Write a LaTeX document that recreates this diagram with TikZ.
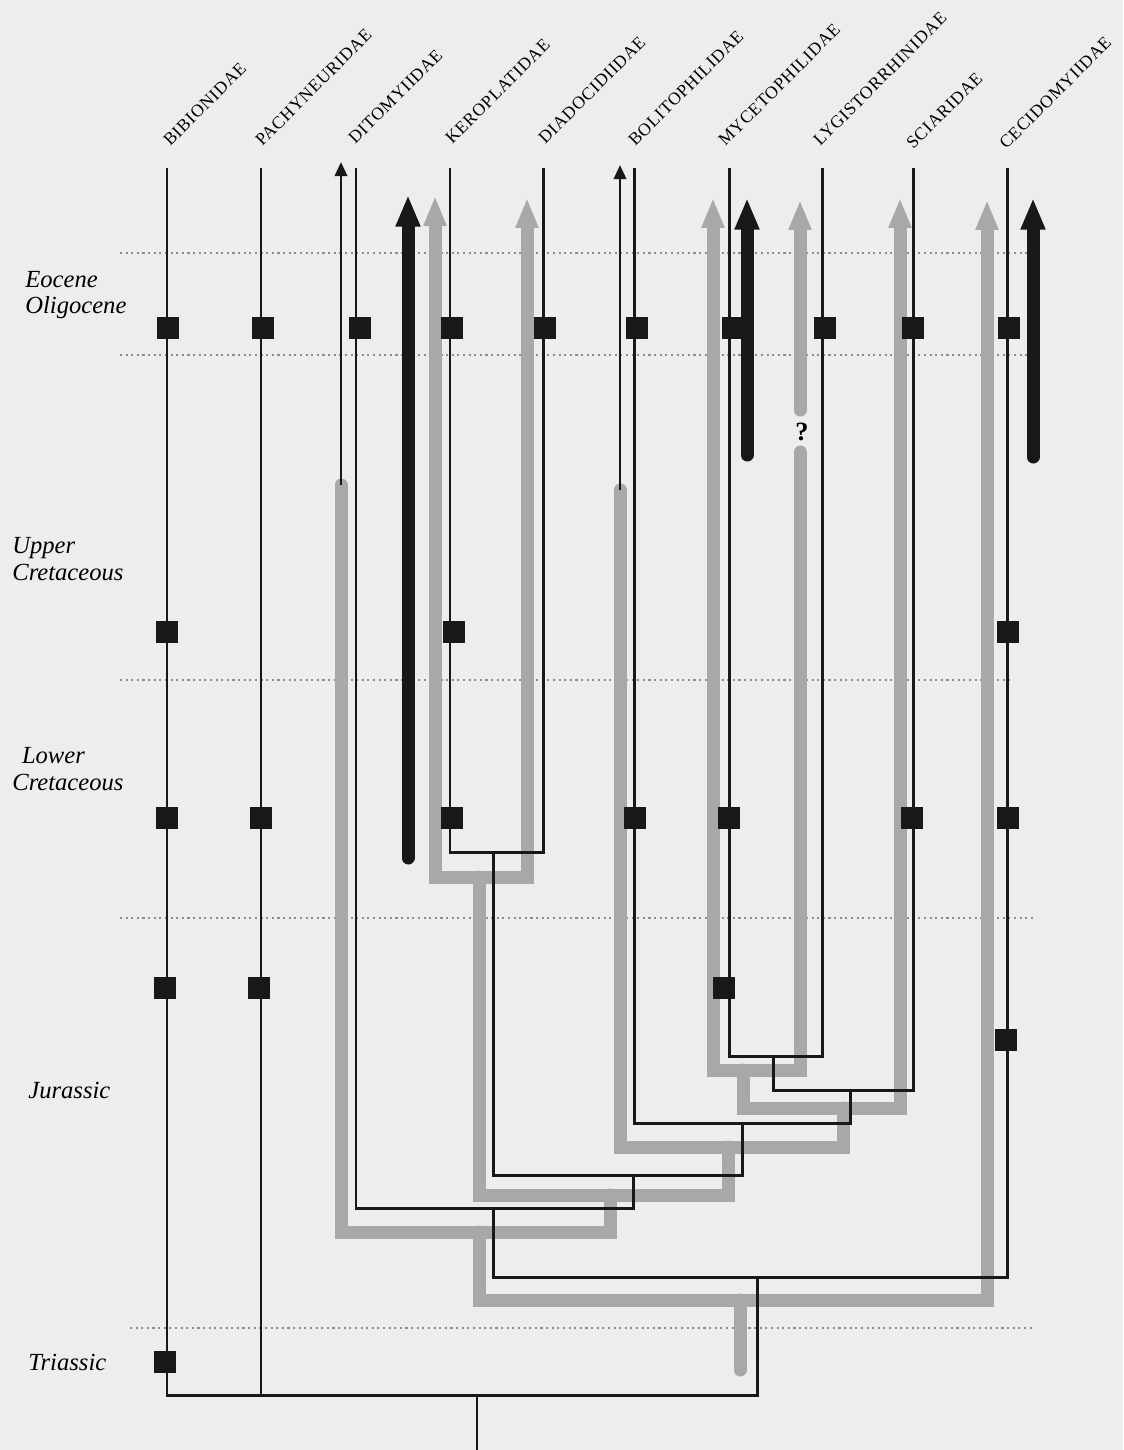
\documentclass[tikz,border=0pt]{standalone}
\usepackage{fontspec}
\setmainfont{Liberation Serif}
\newfontfamily\taxfont[LetterSpace=4]{Liberation Serif}
\usepackage{tikz}
\usetikzlibrary{arrows.meta, positioning}
\definecolor{paper}{RGB}{236,237,239}
\definecolor{ink}{RGB}{24,24,26}
\definecolor{fossilgrey}{RGB}{168,168,170}
\definecolor{stagegrey}{RGB}{140,140,145}

\begin{document}
\begin{tikzpicture}[
    x=0.02cm, y=-0.02cm,
    branch/.style={draw=ink, line width=1.7pt},
    greybranch/.style={draw=fossilgrey, line width=7.4pt, line cap=round},
    greyarrow/.style={greybranch, -{Triangle[width=12pt, length=17pt]}},
    fossilarrow/.style={draw=ink, line width=7.4pt, line cap=round, -{Triangle[width=13pt, length=18pt]}},
    thinarrow/.style={draw=ink, line width=1.5pt, -{Triangle[width=7pt, length=8pt]}},
    apo/.style={rectangle, fill=ink, minimum width=13pt, minimum height=12.5pt, inner sep=0pt},
    taxon/.style={rotate=45, anchor=west, inner sep=0pt, font=\taxfont\fontsize{10}{12}\selectfont},
    period/.style={anchor=west, align=left, inner sep=0pt, font=\itshape\fontsize{14}{15}\selectfont},
    stageline/.style={draw=stagegrey, line width=0.6pt, dash pattern=on 1.2pt off 2pt},
]
\fill[paper] (0,0) rectangle (1123,1450);
\useasboundingbox (0,0) rectangle (1123,1450);

% stage boundaries
\draw[stageline] (120,253) -- (1035,253);
\draw[stageline] (120,355) -- (1035,355);
\draw[stageline] (120,680) -- (1010,680);
\draw[stageline] (120,918) -- (1035,918);
\draw[stageline] (130,1328) -- (1035,1328);

\node[period] (eo) at (25,295) {Eocene\\Oligocene};
\node[period] (uc) at (12,559) {Upper\\Cretaceous};
\node[period] (lc) at (12,769) {\hspace*{5.5pt}Lower\\Cretaceous};
\node[period] (ju) at (28,1090) {Jurassic};
\node[period] (tr) at (28,1362) {Triassic};

% taxa
\node[taxon] (bib-l) at (166,143) {BIBIONIDAE};
\node[taxon] (pac-l) at (258,143) {PACHYNEURIDAE};
\node[taxon] (dit-l) at (351,141) {DITOMYIIDAE};
\node[taxon] (ker-l) at (448,141) {KEROPLATIDAE};
\node[taxon] (dia-l) at (541,141) {DIADOCIDIIDAE};
\node[taxon] (bol-l) at (631,143) {BOLITOPHILIDAE};
\node[taxon] (myc-l) at (721,143) {MYCETOPHILIDAE};
\node[taxon] (lyg-l) at (816,143) {LYGISTORRHINIDAE};
\node[taxon] (sci-l) at (909,146) {SCIARIDAE};
\node[taxon] (cec-l) at (1002,146) {CECIDOMYIIDAE};

\coordinate (bib-t) at (167,168);  \coordinate (pac-t) at (261,168);
\coordinate (dit-t) at (356,168);  \coordinate (ker-t) at (450,168);
\coordinate (dia-t) at (543,168);  \coordinate (bol-t) at (634,168);
\coordinate (myc-t) at (729,168);  \coordinate (lyg-t) at (822,168);
\coordinate (sci-t) at (913,168);  \coordinate (cec-t) at (1007,168);

\coordinate (kd) at (493,852);    \coordinate (ml) at (773,1056);
\coordinate (mls) at (850,1090);  \coordinate (bmls) at (742,1123);
\coordinate (kdb) at (633,1175);  \coordinate (dk) at (493,1208);
\coordinate (dc) at (757,1277);   \coordinate (root) at (477,1395);
\coordinate (base) at (477,1450);

% grey tree
\coordinate (g-dit) at (341,485);    \coordinate (g-dit-t) at (341,162);
\coordinate (g-bol) at (620,490);    \coordinate (g-bol-t) at (620,165);
\coordinate (g-ker-t) at (435,196);  \coordinate (g-dia-t) at (527,198);
\coordinate (g-myc-t) at (713,198);  \coordinate (g-lyg-t) at (800,200);
\coordinate (g-lyg-e) at (800,410);  \coordinate (g-lyg) at (800,452);
\coordinate (g-sci-t) at (900,198);  \coordinate (g-cec-t) at (987,200);
\coordinate (g-kd) at (479,877);     \coordinate (g-ml) at (743,1070);
\coordinate (g-mls) at (843,1108);   \coordinate (g-bmls) at (728,1147);
\coordinate (g-kdb) at (610,1195);   \coordinate (g-dk) at (479,1232);
\coordinate (g-dc) at (740,1300);    \coordinate (g-root) at (740,1370);

\draw[greyarrow] (g-kd) -| (g-ker-t);
\draw[greyarrow] (g-kd) -| (g-dia-t);
\draw[greyarrow] (g-ml) -| (g-myc-t);
\draw[greybranch] (g-ml) -| (g-lyg);
\draw[greyarrow] (g-lyg-e) -- (g-lyg-t);
\draw[greyarrow] (g-mls) -| (g-sci-t);
\draw[greyarrow] (g-dc) -| (g-cec-t);
\draw[greybranch] (g-ml) |- (g-mls);
\draw[greybranch] (g-mls) |- (g-bmls);
\draw[greybranch] (g-bol) |- (g-bmls);
\draw[greybranch] (g-bmls) |- (g-kdb);
\draw[greybranch] (g-kd) |- (g-kdb);
\draw[greybranch] (g-kdb) |- (g-dk);
\draw[greybranch] (g-dit) |- (g-dk);
\draw[greybranch] (g-dk) |- (g-dc);
\draw[greybranch] (g-dc) -- (g-root);
\node[font=\bfseries\fontsize{15}{15}\selectfont, inner sep=0pt] (qm) at (802,432) {?};

\draw[thinarrow] (g-dit) -- (g-dit-t);
\draw[thinarrow] (g-bol) -- (g-bol-t);

% black tree
\draw[branch] (ker-t) |- (kd) -| (dia-t);
\draw[branch] (myc-t) |- (ml) -| (lyg-t);
\draw[branch] (ml) |- (mls) -| (sci-t);
\draw[branch] (bol-t) |- (bmls);
\draw[branch] (mls) |- (bmls);
\draw[branch] (kd) |- (kdb);
\draw[branch] (bmls) |- (kdb);
\draw[branch] (dit-t) |- (dk);
\draw[branch] (kdb) |- (dk);
\draw[branch] (dk) |- (dc) -| (cec-t);
\draw[branch] (bib-t) |- (root);
\draw[branch] (pac-t) |- (root);
\draw[branch] (dc) |- (root);
\draw[branch] (root) -- (base);

\coordinate (dit-fb) at (408,858);  \coordinate (dit-fa) at (408,195);
\coordinate (myc-fb) at (747,455);  \coordinate (myc-fa) at (747,198);
\coordinate (cec-fb) at (1033,457); \coordinate (cec-fa) at (1033,198);
\draw[fossilarrow] (dit-fb) -- (dit-fa);
\draw[fossilarrow] (myc-fb) -- (myc-fa);
\draw[fossilarrow] (cec-fb) -- (cec-fa);

% character squares
\node[apo] (bib-1) at (168,328) {}; \node[apo] (pac-1) at (263,328) {};
\node[apo] (dit-1) at (360,328) {}; \node[apo] (ker-1) at (452,328) {};
\node[apo] (dia-1) at (545,328) {}; \node[apo] (bol-1) at (637,328) {};
\node[apo] (myc-1) at (733,328) {}; \node[apo] (lyg-1) at (825,328) {};
\node[apo] (sci-1) at (913,328) {}; \node[apo] (cec-1) at (1009,328) {};
\node[apo] (bib-2) at (167,632) {}; \node[apo] (ker-2) at (454,632) {};
\node[apo] (cec-2) at (1008,632) {};
\node[apo] (bib-3) at (167,818) {}; \node[apo] (pac-3) at (261,818) {};
\node[apo] (ker-3) at (452,818) {}; \node[apo] (bol-3) at (635,818) {};
\node[apo] (myc-3) at (729,818) {}; \node[apo] (sci-3) at (912,818) {};
\node[apo] (cec-3) at (1008,818) {};
\node[apo] (bib-4) at (165,988) {}; \node[apo] (pac-4) at (259,988) {};
\node[apo] (myc-4) at (724,988) {};
\node[apo] (cec-4) at (1006,1040) {};
\node[apo] (bib-5) at (165,1362) {};

\end{tikzpicture}
\end{document}
